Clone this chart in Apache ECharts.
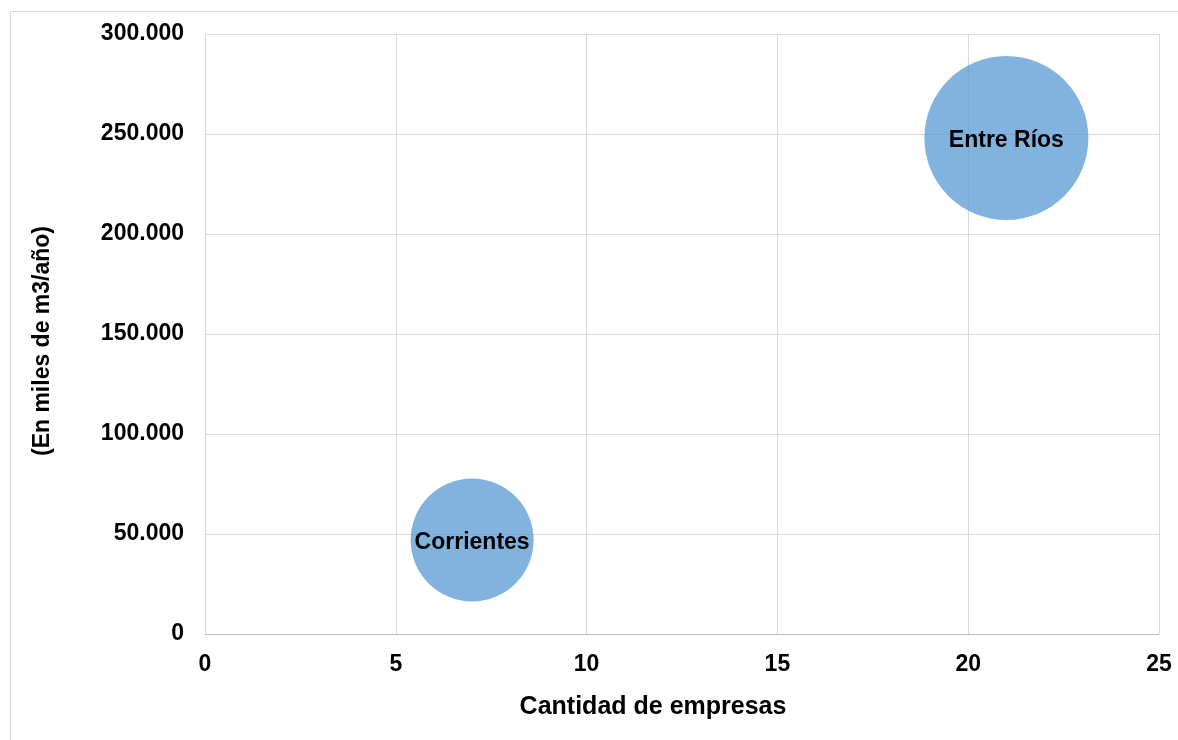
<!DOCTYPE html>
<html>
<head>
<meta charset="utf-8">
<script src="https://cdn.jsdelivr.net/npm/echarts@6/dist/echarts.min.js"></script>
<style>
  html, body { margin: 0; padding: 0; background: #fff; }
  #chart { width: 1178px; height: 740px; }
</style>
</head>
<body>
<div id="chart"></div>
<script>
var provincias = ["Corrientes", "Entre Ríos"];
var empresas = [7, 21];
var volumen = [47000, 248000];
var tamano = [45, 80];

var maxTamano = 80;
var maxDiametro = 164;

var data = provincias.map(function (p, i) {
  return { name: p, value: [empresas[i], volumen[i], tamano[i]] };
});

function fmtMiles(v) {
  return String(v).replace(/\B(?=(\d{3})+(?!\d))/g, ".");
}

var chart = echarts.init(document.getElementById("chart"));
var option = {
  animation: false,
  textStyle: { fontFamily: "'Liberation Sans', Arial, sans-serif" },
  graphic: [
    {
      type: "rect",
      shape: { x: 10.5, y: 11.5, width: 1300, height: 900 },
      style: { fill: "none", stroke: "#d9d9d9", lineWidth: 1 },
      silent: true
    }
  ],
  grid: { left: 205, right: 19, top: 34, bottom: 106 },
  xAxis: {
    type: "value",
    min: 0,
    max: 25,
    interval: 5,
    name: "Cantidad de empresas",
    nameLocation: "middle",
    nameGap: 61,
    nameTextStyle: {
      color: "#000",
      fontSize: 25,
      fontWeight: "bold",
      padding: [0, 58, 0, 0]
    },
    axisLine: { show: true, lineStyle: { color: "#bfbfbf", width: 1 } },
    axisTick: { show: false },
    axisLabel: { color: "#000", fontSize: 23, fontWeight: "bold", margin: 19 },
    splitLine: { show: true, lineStyle: { color: "#d9d9d9", width: 1 } }
  },
  yAxis: {
    type: "value",
    min: 0,
    max: 300000,
    interval: 50000,
    name: "(En miles de m3/año)",
    nameLocation: "middle",
    nameGap: 151,
    nameTextStyle: {
      color: "#000",
      fontSize: 23,
      fontWeight: "bold",
      padding: [0, 14, 0, 0]
    },
    axisLine: { show: true, lineStyle: { color: "#d9d9d9", width: 1 } },
    axisTick: { show: false },
    axisLabel: {
      color: "#000",
      fontSize: 23,
      fontWeight: "bold",
      margin: 21,
      formatter: fmtMiles
    },
    splitLine: { show: true, lineStyle: { color: "#d9d9d9", width: 1 } }
  },
  series: [
    {
      type: "scatter",
      data: data,
      symbol: "circle",
      symbolSize: function (v) {
        return maxDiametro * Math.sqrt(v[2] / maxTamano);
      },
      itemStyle: { color: "rgba(91,155,213,0.76)", opacity: 1 },
      label: {
        show: true,
        position: "inside",
        formatter: "{b}",
        color: "#000",
        fontSize: 23,
        fontWeight: "bold",
        offset: [0, 3]
      }
    }
  ]
};
chart.setOption(option);
</script>
</body>
</html>
